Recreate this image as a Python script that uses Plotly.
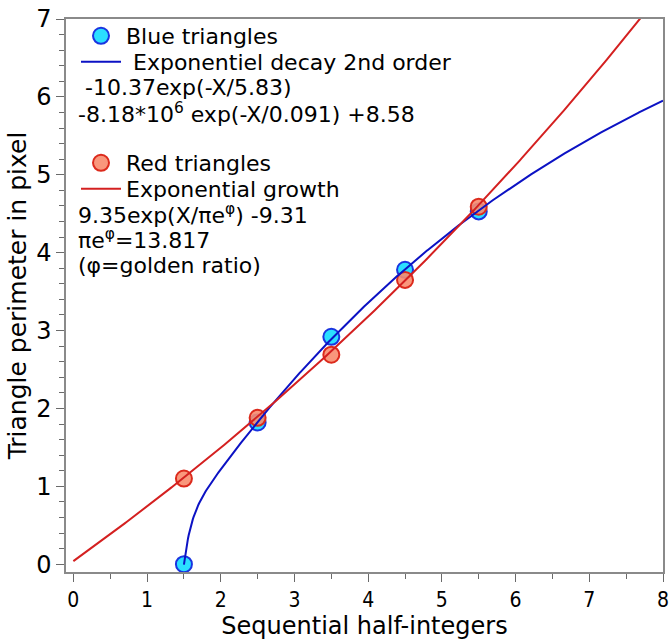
import numpy as np
import plotly.graph_objects as go

# ---- data ----
half_integers = [1.5, 2.5, 3.5, 4.5, 5.5]
blue_perimeter = [0.0, 1.82, 2.92, 3.78, 4.53]
red_perimeter = [1.10, 1.88, 2.69, 3.65, 4.59]

# fit coefficients printed in the legend
blue_fit_coef = [-10.37, 5.83, -8.18e6, 0.091, 8.58]   # A1, t1, A2, t2, y0
red_fit_coef = [9.35, 13.817, -9.31]                   # A, t, y0
blue_fit_range = [1.5, 8.0]
red_fit_range = [0.0, 8.0]

x_ticks = [0, 1, 2, 3, 4, 5, 6, 7, 8]
y_ticks = [0, 1, 2, 3, 4, 5, 6, 7]

xb = np.linspace(blue_fit_range[0], blue_fit_range[1], 600)
a1, t1, a2, t2, y0 = blue_fit_coef
yb = a1 * np.exp(-xb / t1) + a2 * np.exp(-xb / t2) + y0
xr = np.linspace(red_fit_range[0], red_fit_range[1], 400)
ra, rt, ry0 = red_fit_coef
yr = ra * np.exp(xr / rt) + ry0

BLUE_LINE = "#0c12c4"
BLUE_EDGE = "#1a34e0"
BLUE_FILL = "rgba(20,220,255,0.9)"
RED_LINE = "#d42020"
RED_EDGE = "#dc2a1c"
RED_FILL = "rgba(248,140,110,0.9)"

SANS = "DejaVu Sans, sans-serif"
COND = "DejaVu Sans Condensed, DejaVu Sans, sans-serif"
LFS = 22

fig = go.Figure()
fig.add_trace(go.Scatter(x=half_integers, y=blue_perimeter, mode="markers",
                         name="Blue triangles", legend="legend",
                         marker=dict(size=16, color=BLUE_FILL,
                                     line=dict(color=BLUE_EDGE, width=2))))
fig.add_trace(go.Scatter(x=half_integers, y=red_perimeter, mode="markers",
                         name="Red triangles", legend="legend3",
                         marker=dict(size=16, color=RED_FILL,
                                     line=dict(color=RED_EDGE, width=2))))
fig.add_trace(go.Scatter(x=xb, y=yb, mode="lines",
                         name="\u00a0Exponentiel decay 2nd order", legend="legend2",
                         line=dict(color=BLUE_LINE, width=2)))
fig.add_trace(go.Scatter(x=xr, y=yr, mode="lines",
                         name="Exponential growth", legend="legend4",
                         line=dict(color=RED_LINE, width=2)))

L, R, T, B = 66, 8, 19, 69
W, H = 671, 641
pw, ph = W - L - R, H - T - B


def px2paper(px, py):
    return (px - L) / pw, (H - B - py) / ph


def legend_at(py):
    lx, ly = px2paper(76, py)
    return dict(x=lx, y=ly, xanchor="left", yanchor="middle",
                bgcolor="rgba(0,0,0,0)", borderwidth=0,
                font=dict(family=SANS, size=LFS, color="black"),
                itemwidth=40, tracegroupgap=0)


formula_lines = [
    ("\u00a0-10.37exp(-X/5.83)", 87),
    ("-8.18*10<sup>6</sup> exp(-X/0.091) +8.58", 113),
    ("9.35exp(X/πe<sup>φ</sup>) -9.31", 214),
    ("πe<sup>φ</sup>=13.817", 239),
    ("(φ=golden ratio)", 265),
]
annotations = []
for txt, py in formula_lines:
    ax_, ay_ = px2paper(76, py)
    annotations.append(dict(text=txt, x=ax_, y=ay_, xref="paper", yref="paper",
                            xanchor="left", yanchor="middle", showarrow=False,
                            font=dict(family=SANS, size=LFS, color="black")))

axis_common = dict(showline=True, linecolor="#8a8a8a", linewidth=1.5, mirror=True,
                   ticks="outside", ticklen=8, tickcolor="#6a6a6a", tickwidth=1.2,
                   showgrid=False, zeroline=False, automargin=False)

fig.update_layout(
    width=W, height=H,
    margin=dict(l=L, r=R, t=T, b=B),
    plot_bgcolor="white", paper_bgcolor="white",
    showlegend=True,
    legend=legend_at(36),
    legend2=legend_at(62),
    legend3=legend_at(163),
    legend4=legend_at(189),
    annotations=annotations,
    xaxis=dict(range=[-0.1, 8], tickvals=x_ticks,
               tickfont=dict(family=COND, size=21, color="black"),
               minor=dict(dtick=0.5, ticks="outside", ticklen=5, tickcolor="#6a6a6a"),
               title=dict(text="Sequential half-integers", standoff=4,
                          font=dict(family=SANS, size=24, color="black")),
               **axis_common),
    yaxis=dict(range=[-0.1, 7], tickvals=y_ticks,
               tickfont=dict(family=SANS, size=24, color="black"),
               minor=dict(dtick=0.2, ticks="outside", ticklen=5, tickcolor="#6a6a6a"),
               title=dict(text="Triangle perimeter in pixel", standoff=2,
                          font=dict(family=SANS, size=25, color="black")),
               **axis_common),
)

fig.write_html("out.html")
